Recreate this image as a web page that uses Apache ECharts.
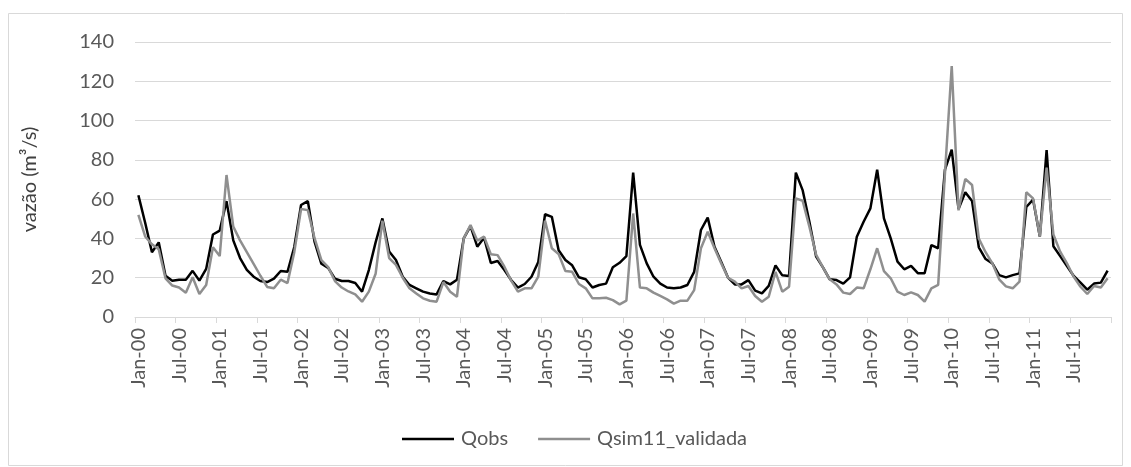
<!DOCTYPE html>
<html>
<head>
<meta charset="utf-8">
<script src="https://cdn.jsdelivr.net/npm/echarts@6/dist/echarts.min.js"></script>
<style>
  html, body { margin: 0; padding: 0; background: #ffffff; }
  #chart { width: 1131px; height: 467px; }
</style>
</head>
<body>
<div id="chart"></div>
<script>
// Monthly discharge, Jan 2000 – Dec 2011
const monthNames = ['Jan', 'Feb', 'Mar', 'Apr', 'May', 'Jun', 'Jul', 'Aug', 'Sep', 'Oct', 'Nov', 'Dec'];
const years = ['00', '01', '02', '03', '04', '05', '06', '07', '08', '09', '10', '11'];
const months = [];
years.forEach(y => monthNames.forEach(m => months.push(m + '-' + y)));

// Observed discharge (m³/s)
const qobs = [
  62, 48, 33, 38, 21, 18.5, 19, 19, 23.5, 18.5, 24.5, 42,
  44, 59, 39, 30, 24, 20.5, 18.3, 17.8, 19.5, 23.4, 23, 35.6,
  57, 59, 38.2, 27.1, 25, 19.5, 18.3, 18.3, 17.3, 12.9, 23.9, 38,
  50.2, 33.3, 29, 20.5, 16.3, 14.6, 12.9, 12, 11.5, 18.3, 16.6, 19,
  40, 46.3, 35.8, 40.4, 27.5, 28.5, 23.9, 18.8, 15, 16.8, 20.5, 28,
  52.3, 51, 34, 29, 26.3, 20.2, 19.2, 15, 16.3, 17, 25.3, 27.6,
  31, 73.5, 36.7, 27.3, 20.5, 17, 15, 14.6, 15, 16.3, 23, 44.3,
  50.6, 35.8, 28, 20, 16.6, 16.6, 18.8, 13.4, 12, 15.8, 26.3, 21.2,
  20.9, 73.5, 64.6, 48.5, 30.7, 25.3, 19.2, 18.8, 17, 20.2, 40.9, 48.5,
  55.3, 75, 50.2, 40, 28.2, 24.3, 26, 22.3, 22.3, 36.6, 35, 75,
  85.2, 55, 63.5, 59, 35.5, 29.5, 27.3, 21.3, 20.2, 21.3, 22.2, 56,
  59.8, 41, 85, 36, 31, 26, 20.9, 17.5, 13.9, 17, 17.5, 23.6
];

// Simulated discharge, validation run (m³/s)
const qsim = [
  52, 41, 37, 34.5, 19.7, 16, 15, 12.4, 20.2, 11.7, 16.3, 35.5,
  31, 72.3, 46, 39, 33, 27, 21, 15.3, 14.6, 19, 17.3, 33,
  55, 54.4, 40, 29, 25.4, 18.3, 15, 13, 11.5, 7.8, 12.9, 22,
  49, 30, 26.5, 20, 14.6, 12, 9.5, 8.3, 7.8, 17.8, 12.9, 10.3,
  40, 46.8, 38.9, 40.9, 32, 31.5, 25.6, 18.5, 12.9, 14.6, 14.6, 20.5,
  49, 35, 32, 23.4, 23, 16.8, 14.6, 9.5, 9.5, 9.8, 8.6, 6.4,
  8.3, 52.7, 15, 14.6, 12.4, 10.7, 9, 6.8, 8.3, 8.3, 13.7, 35,
  43.4, 35, 27.3, 20, 18, 14.6, 15.8, 10.7, 7.8, 10.3, 23, 12.9,
  15.4, 60.4, 59.2, 46, 31.6, 25.3, 19.2, 16.6, 12.4, 11.7, 15, 14.6,
  24.3, 35, 23.4, 19.7, 12.9, 11.2, 12.5, 11.2, 7.8, 14.6, 16.3, 73,
  127.8, 54.3, 70.3, 67.2, 40, 33, 27.3, 19.2, 15.6, 14.6, 18, 63.5,
  60.4, 41, 76, 42, 33.3, 27.3, 20.5, 15.4, 11.7, 15.8, 15, 19.7
];

const seriesNames = ['Qobs', 'Qsim11_validada'];
const yTicks = { min: 0, max: 140, interval: 20 };

const FONT = 'Lato';
const chart = echarts.init(document.getElementById('chart'), null, { renderer: 'canvas' });

chart.setOption({
  animation: false,
  backgroundColor: '#ffffff',
  textStyle: { fontFamily: FONT },
  graphic: [{
    type: 'rect',
    shape: { x: 8.5, y: 13.5, width: 1114, height: 452 },
    style: { fill: 'none', stroke: '#d9d9d9', lineWidth: 1 },
    silent: true
  }],
  grid: { left: 135, right: 20, top: 42, bottom: 150, containLabel: false },
  legend: {
    data: seriesNames,
    left: 397,
    top: 424,
    icon: 'rect',
    itemWidth: 52,
    itemHeight: 2.5,
    itemGap: 30,
    textStyle: { fontFamily: FONT, fontSize: 20, color: '#595959', padding: [0, 0, 0, 2] }
  },
  xAxis: {
    type: 'category',
    data: months,
    boundaryGap: true,
    axisLine: { lineStyle: { color: '#d9d9d9', width: 1 } },
    axisTick: { show: true, interval: 5, length: 6, lineStyle: { color: '#d9d9d9' } },
    axisLabel: {
      interval: 5,
      rotate: 90,
      margin: 11,
      color: '#595959',
      fontFamily: FONT,
      fontSize: 20
    },
    splitLine: { show: false }
  },
  yAxis: {
    type: 'value',
    min: yTicks.min,
    max: yTicks.max,
    interval: yTicks.interval,
    name: 'vazão (m³/s)',
    nameLocation: 'middle',
    nameGap: 95,
    nameRotate: 90,
    nameTextStyle: { fontFamily: FONT, fontSize: 20, color: '#404040' },
    axisLine: { show: false },
    axisTick: { show: false },
    axisLabel: { margin: 21, color: '#595959', fontFamily: FONT, fontSize: 20 },
    splitLine: { lineStyle: { color: '#d9d9d9', width: 1 } }
  },
  series: [
    {
      name: seriesNames[0],
      type: 'line',
      data: qobs,
      symbol: 'none',
      lineStyle: { color: '#000000', width: 2.5 },
      itemStyle: { color: '#000000' },
      z: 2
    },
    {
      name: seriesNames[1],
      type: 'line',
      data: qsim,
      symbol: 'none',
      lineStyle: { color: '#8f8f8f', width: 2.5 },
      itemStyle: { color: '#8f8f8f' },
      z: 3
    }
  ]
});
</script>
</body>
</html>
